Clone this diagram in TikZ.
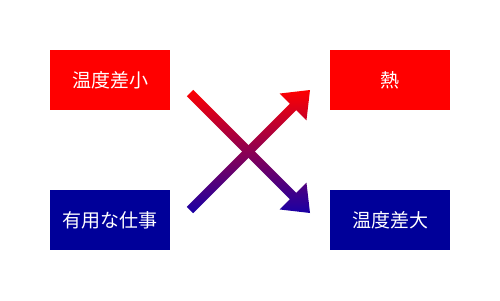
\documentclass[tikz,border=0pt]{standalone}
\usepackage{fontspec}
\newfontfamily\jpfont{Noto Sans CJK JP}
\definecolor{boxred}{RGB}{255,0,0}
\definecolor{boxblue}{RGB}{0,0,153}
\definecolor{arrblue}{RGB}{25,0,165}
\begin{document}
\begin{tikzpicture}[x=1pt,y=-1pt,
  box/.style={minimum width=120pt,minimum height=60pt,inner sep=0pt,outer sep=0pt,
    text=white,font=\jpfont\fontsize{19}{19}\selectfont},
  redbox/.style={box,fill=boxred},
  bluebox/.style={box,fill=boxblue},
  grad/.style={top color=boxred,bottom color=arrblue}]
\useasboundingbox[fill=white] (0,0) rectangle (500,300);
\node[redbox]  (small) at (110,80)  {温度差小};
\node[bluebox] (work)  at (110,220) {有用な仕事};
\node[redbox]  (heat)  at (390,80)  {熱};
\node[bluebox] (large) at (390,220) {温度差大};
\shade[grad]
  (193.18,89.82) -- (296.21,192.85) -- (306.46,182.60) -- (310,213)
  -- (279.60,209.46) -- (289.85,199.21) -- (186.82,96.18) -- cycle;
\shade[grad]
  (186.82,206.82) -- (289.85,103.79) -- (279.60,93.54) -- (310,90)
  -- (306.46,120.40) -- (296.21,110.15) -- (193.18,213.18) -- cycle;
\end{tikzpicture}
\end{document}
